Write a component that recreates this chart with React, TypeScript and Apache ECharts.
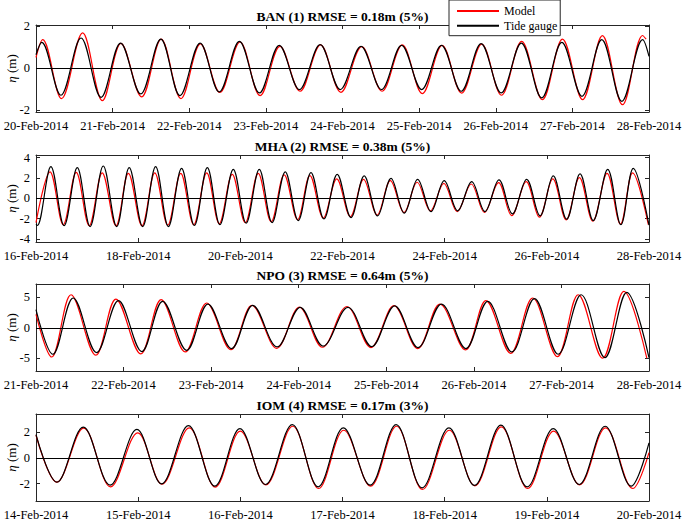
import React, { useEffect, useRef } from 'react';
import * as echarts from 'echarts';

// ---------- data ----------
const titles = [
  'BAN (1) RMSE = 0.18m (5%)',
  'MHA (2) RMSE = 0.38m (5%)',
  'NPO (3) RMSE = 0.64m (5%)',
  'IOM (4) RMSE = 0.17m (3%)',
];
const seriesNames = ['Model', 'Tide gauge'];

const banDates = ['20-Feb-2014', '21-Feb-2014', '22-Feb-2014', '23-Feb-2014', '24-Feb-2014', '25-Feb-2014', '26-Feb-2014', '27-Feb-2014', '28-Feb-2014'];
const mhaDates = ['16-Feb-2014', '18-Feb-2014', '20-Feb-2014', '22-Feb-2014', '24-Feb-2014', '26-Feb-2014', '28-Feb-2014'];
const npoDates = ['21-Feb-2014', '22-Feb-2014', '23-Feb-2014', '24-Feb-2014', '25-Feb-2014', '26-Feb-2014', '27-Feb-2014', '28-Feb-2014'];
const iomDates = ['14-Feb-2014', '15-Feb-2014', '16-Feb-2014', '17-Feb-2014', '18-Feb-2014', '19-Feb-2014', '20-Feb-2014'];

const banTicks = [-2, 0, 2];
const mhaTicks = [-4, -2, 0, 2, 4];
const npoTicks = [-5, 0, 5];
const iomTicks = [-2, 0, 2];

const banRange = [-2.1, 2.05];
const mhaRange = [-4.3, 4.25];
const npoRange = [-7.1, 7.2];
const iomRange = [-3.35, 3.4];

// hours since first tick label, water level (m)
const banGaugeHours = [0, 1.8, 7.8, 14.1, 20.4, 26.5, 32.8, 39.1, 45.1, 51.4, 57.4, 63.7, 70.0, 76.2, 82.5, 89.0, 95.3, 101.8, 108.2, 114.5, 120.8, 127.0, 133.2, 139.4, 145.7, 152.0, 158.4, 164.7, 171.0, 177.2, 183.5, 190.0, 192];
const banGaugeLevels = [0.63, 1.22, -1.30, 1.43, -1.40, 1.19, -1.24, 1.38, -1.32, 1.19, -1.14, 1.27, -1.19, 1.08, -1.03, 1.11, -1.03, 1.03, -1.03, 1.08, -1.03, 1.08, -1.11, 1.16, -1.19, 1.19, -1.43, 1.22, -1.35, 1.35, -1.59, 1.35, 0.55];
const banModelHours = [0, 2.1, 8.0, 14.6, 20.8, 26.6, 33.1, 39.2, 45.4, 51.5, 57.6, 63.9, 70.2, 76.4, 82.7, 89.1, 95.5, 102.0, 108.4, 114.7, 121.0, 127.2, 133.3, 139.6, 145.8, 152.1, 158.6, 164.9, 171.2, 177.4, 183.7, 190.0, 191.1];
const banModelLevels = [0.50, 1.35, -1.46, 1.67, -1.56, 1.17, -1.38, 1.38, -1.46, 1.15, -1.17, 1.24, -1.32, 1.03, -1.11, 1.10, -1.16, 1.02, -1.11, 1.10, -1.22, 1.08, -1.20, 1.14, -1.30, 1.27, -1.51, 1.38, -1.51, 1.54, -1.75, 1.55, 1.38];

const mhaGaugeHours = [0, 0.6, 7.0, 13.2, 19.4, 25.4, 31.6, 37.9, 43.8, 50.1, 56.2, 62.2, 68.4, 74.4, 80.5, 86.4, 92.7, 98.7, 104.9, 110.9, 117.1, 123.2, 129.2, 135.3, 141.5, 148.0, 154.2, 160.5, 166.8, 173.0, 179.3, 185.6, 191.8, 198.1, 204.7, 210.9, 217.5, 223.8, 230.5, 236.8, 243.0, 249.3, 255.6, 261.8, 268.6, 274.8, 280.6, 288];
const mhaGaugeLevels = [-2.55, -2.68, 3.10, -2.70, 3.00, -2.78, 3.17, -2.78, 3.00, -2.78, 3.10, -2.78, 2.94, -2.68, 3.00, -2.60, 2.84, -2.45, 2.84, -2.39, 2.60, -2.19, 2.52, -2.03, 2.35, -1.90, 2.19, -1.73, 1.96, -1.47, 1.86, -1.31, 1.73, -1.24, 1.63, -1.31, 1.80, -1.54, 1.86, -1.73, 2.19, -2.06, 2.39, -2.19, 2.84, -2.60, 2.94, -2.65];
const mhaModelHours = [0, 6.6, 12.8, 18.9, 25.0, 31.1, 37.6, 43.4, 49.8, 55.8, 61.9, 68.0, 74.1, 80.2, 86.1, 92.2, 98.3, 104.4, 110.5, 116.6, 122.9, 128.7, 135.0, 141.3, 147.7, 153.9, 160.3, 166.5, 172.9, 179.1, 185.3, 191.6, 197.9, 204.5, 210.7, 217.3, 223.5, 230.3, 236.5, 242.8, 249.1, 255.3, 261.6, 268.3, 274.6, 280.3, 287.7];
const mhaModelLevels = [-2.40, 2.60, -2.60, 2.55, -2.70, 2.50, -2.70, 2.45, -2.70, 2.50, -2.65, 2.45, -2.60, 2.50, -2.50, 2.35, -2.40, 2.45, -2.30, 2.29, -2.10, 2.22, -1.95, 1.90, -1.80, 1.86, -1.65, 1.73, -1.40, 1.57, -1.25, 1.47, -1.31, 1.40, -1.40, 1.54, -1.70, 1.63, -1.86, 1.90, -2.12, 2.03, -2.25, 2.45, -2.55, 2.50, -2.60];

const npoGaugeHours = [0, 4.6, 10.2, 16.6, 22.6, 29.0, 34.7, 41.3, 47.1, 53.6, 59.4, 66.1, 72.4, 78.7, 85.5, 92.0, 98.3, 104.7, 111.1, 117.8, 123.8, 130.4, 136.6, 143.1, 149.4, 155.9, 161.9, 168];
const npoGaugeLevels = [3.0, -4.35, 4.90, -4.08, 4.46, -3.90, 4.35, -3.70, 3.90, -3.42, 3.70, -3.15, 3.37, -3.00, 3.37, -3.10, 3.60, -3.25, 3.90, -3.42, 4.35, -3.97, 4.78, -4.35, 5.43, -4.90, 5.82, -4.90];
const npoModelHours = [0, 4.3, 9.6, 16.4, 21.9, 28.7, 34.3, 40.9, 46.8, 53.4, 59.2, 66.0, 72.2, 78.5, 85.2, 91.8, 98.1, 104.6, 110.7, 117.7, 123.3, 130.1, 136.1, 142.9, 148.6, 155.3, 161.1, 167.4];
const npoModelLevels = [2.2, -4.80, 5.43, -4.50, 4.73, -4.30, 4.62, -3.97, 4.08, -3.60, 3.70, -3.37, 3.40, -3.20, 3.50, -3.25, 3.64, -3.42, 3.90, -3.64, 4.46, -4.20, 4.90, -4.73, 5.43, -5.00, 5.98, -5.00];

const iomGaugeHours = [0, 4.9, 11.1, 17.4, 23.7, 29.5, 35.8, 42.0, 47.9, 53.9, 60.2, 66.3, 72.2, 78.5, 84.6, 90.7, 97.0, 103.0, 109.2, 115.4, 121.5, 127.6, 133.7, 139.8, 144];
const iomGaugeLevels = [1.80, -1.89, 2.38, -2.12, 2.20, -2.02, 2.50, -2.20, 2.27, -2.07, 2.58, -2.25, 2.33, -2.12, 2.58, -2.33, 2.33, -2.14, 2.53, -2.25, 2.27, -2.07, 2.45, -2.20, 1.16];
const iomModelHours = [0, 4.9, 11.2, 17.5, 23.9, 29.6, 36.0, 42.1, 48.0, 54.0, 60.3, 66.4, 72.3, 78.6, 84.7, 90.8, 97.1, 103.1, 109.3, 115.5, 121.6, 127.7, 133.8, 140.2, 144];
const iomModelLevels = [1.75, -1.89, 2.30, -2.25, 1.94, -2.05, 2.33, -2.27, 2.07, -2.10, 2.45, -2.38, 2.14, -2.20, 2.45, -2.45, 2.14, -2.17, 2.40, -2.38, 2.07, -2.10, 2.33, -2.38, 0.40];

// ---------- layout / style ----------
const FONT = "'Liberation Serif', 'Times New Roman', Times, serif";
const AXIS = '#262626';
const W = 685;
const H = 522;
const GRID_LEFT = 36;
const GRID_WIDTH = 613;
const GRID_HEIGHT = 87;
const gridTops = [25, 155, 284, 414];

const zip = (t: number[], v: number[]) => t.map((x, i) => [x, v[i]]);

const panels = [
  { dates: banDates, step: 24, ticks: banTicks, range: banRange, gauge: zip(banGaugeHours, banGaugeLevels), model: zip(banModelHours, banModelLevels) },
  { dates: mhaDates, step: 48, ticks: mhaTicks, range: mhaRange, gauge: zip(mhaGaugeHours, mhaGaugeLevels), model: zip(mhaModelHours, mhaModelLevels) },
  { dates: npoDates, step: 24, ticks: npoTicks, range: npoRange, gauge: zip(npoGaugeHours, npoGaugeLevels), model: zip(npoModelHours, npoModelLevels) },
  { dates: iomDates, step: 24, ticks: iomTicks, range: iomRange, gauge: zip(iomGaugeHours, iomGaugeLevels), model: zip(iomModelHours, iomModelLevels) },
];

function buildOption() {
  const grid: any[] = [];
  const xAxis: any[] = [];
  const yAxis: any[] = [];
  const series: any[] = [];
  const title: any[] = [];

  panels.forEach((p, i) => {
    grid.push({
      left: GRID_LEFT, top: gridTops[i], width: GRID_WIDTH, height: GRID_HEIGHT,
      containLabel: false, outerBoundsMode: 'none',
    });
    const maxH = (p.dates.length - 1) * p.step;
    const line = { show: true, onZero: false, lineStyle: { color: AXIS, width: 1 } };
    const xBase = {
      gridIndex: i, type: 'value', min: 0, max: maxH, interval: p.step,
      axisLine: line,
      axisTick: { show: true, inside: true, length: 4, lineStyle: { color: AXIS, width: 1 } },
      splitLine: { show: false },
    };
    xAxis.push({
      ...xBase, position: 'bottom',
      axisLabel: {
        show: true, margin: 7, color: '#000', fontFamily: FONT, fontSize: 12.5,
        hideOverlap: false,
        formatter: (v: number) => p.dates[Math.round(v / p.step)] ?? '',
      },
    });
    xAxis.push({ ...xBase, position: 'top', axisLabel: { show: false } });

    const yBase = {
      gridIndex: i, type: 'value', min: p.range[0], max: p.range[1],
      axisLine: line,
      axisTick: { show: true, inside: true, length: 4, customValues: p.ticks, lineStyle: { color: AXIS, width: 1 } },
      splitLine: { show: false },
    };
    yAxis.push({
      ...yBase, position: 'left',
      axisLabel: { show: true, margin: 6, customValues: p.ticks, color: '#000', fontFamily: FONT, fontSize: 12.5 },
      name: '{i|η} (m)', nameLocation: 'middle', nameGap: 18, nameRotate: 90,
      nameMoveOverlap: false,
      nameTextStyle: {
        color: '#000', fontFamily: FONT, fontSize: 13, lineHeight: 13, padding: 0,
        rich: { i: { fontStyle: 'italic', fontFamily: FONT, fontSize: 13, lineHeight: 13, color: '#000' } },
      },
    });
    yAxis.push({ ...yBase, position: 'right', axisLabel: { show: false } });

    series.push({
      type: 'line', name: seriesNames[0], xAxisIndex: 2 * i, yAxisIndex: 2 * i,
      data: p.model, smooth: 0.36, symbol: 'none', showSymbol: false,
      lineStyle: { color: '#ff0000', width: 1.2 }, itemStyle: { color: '#ff0000' }, z: 2,
    });
    series.push({
      type: 'line', name: seriesNames[1], xAxisIndex: 2 * i, yAxisIndex: 2 * i,
      data: p.gauge, smooth: 0.36, symbol: 'none', showSymbol: false,
      lineStyle: { color: '#000000', width: 1.2 }, itemStyle: { color: '#000000' }, z: 3,
      markLine: {
        silent: true, symbol: 'none', label: { show: false },
        lineStyle: { color: '#000', width: 1.2, type: 'solid' },
        data: [{ yAxis: 0 }],
      },
    });

    title.push({
      text: titles[i], left: 'center', top: gridTops[i] - 16, padding: 0,
      textStyle: { fontFamily: FONT, fontSize: 13.5, fontWeight: 'bold', color: '#000' },
    });
  });

  return {
    animation: false,
    backgroundColor: '#ffffff',
    title,
    grid,
    xAxis,
    yAxis,
    series,
    legend: {
      data: seriesNames,
      orient: 'vertical',
      left: 449, top: 0,
      itemWidth: 42, itemHeight: 2, icon: 'rect',
      itemGap: 2.7,
      padding: [5, 3, 4, 8],
      borderColor: AXIS, borderWidth: 1,
      backgroundColor: '#ffffff',
      textStyle: { fontFamily: FONT, fontSize: 12, color: '#000' },
      selectedMode: false,
      z: 10,
    },
  };
}

export default function App() {
  const ref = useRef<HTMLDivElement>(null);
  useEffect(() => {
    if (!ref.current) return;
    const chart = echarts.init(ref.current, null, { renderer: 'svg' });
    chart.setOption(buildOption() as any);
    return () => chart.dispose();
  }, []);
  return <div ref={ref} style={{ position: 'fixed', left: 0, top: 0, width: W, height: H, background: '#fff' }} />;
}
